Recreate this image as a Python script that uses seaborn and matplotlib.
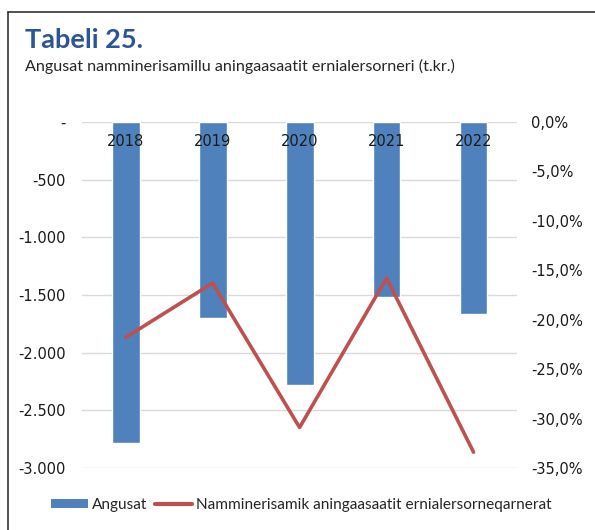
import matplotlib.pyplot as plt
import seaborn as sns
from matplotlib.lines import Line2D
from matplotlib.patches import Patch
from matplotlib.ticker import FuncFormatter, MultipleLocator

years = ["2018", "2019", "2020", "2021", "2022"]
angusat = [-2780, -1700, -2280, -1520, -1665]
ernialersorneq = [-21.8, -16.3, -30.9, -15.8, -33.4]

title = "Tabeli 25."
subtitle = "Angusat namminerisamillu aningaasaatit ernialersorneri (t.kr.)"
bar_label = "Angusat"
line_label = "Namminerisamik aningaasaatit ernialersorneqarnerat"

bar_color = "#4f81bd"
line_color = "#c0504d"

sns.set_theme(style="white")
plt.rcParams["font.family"] = ["DejaVu Sans"]

fig = plt.figure(figsize=(5.95, 5.30), dpi=100)
ax = fig.add_axes([0.138, 0.117, 0.731, 0.653])

sns.barplot(x=years, y=angusat, ax=ax, color=bar_color, width=0.32, saturation=1)
ax.set_ylim(-3000, 0)
ax.yaxis.set_major_locator(MultipleLocator(500))


def left_fmt(v, _):
    if abs(v) < 1e-9:
        return "-"
    return f"{v:,.0f}".replace(",", ".")


ax.yaxis.set_major_formatter(FuncFormatter(left_fmt))
ax.grid(axis="y", color="#d9d9d9", linewidth=1)
ax.set_axisbelow(True)
ax.tick_params(axis="x", length=0, labelbottom=False)
ax.tick_params(axis="y", length=0, pad=12, labelsize=10.5, colors="#1a1a1a")
ax.set_xlabel("")
ax.set_ylabel("")
for s in ax.spines.values():
    s.set_visible(False)

# category labels sit just under the zero line, on top of the bars
for i, yr in enumerate(years):
    ax.annotate(yr, (i, 0), xytext=(0, -14), textcoords="offset points",
                ha="center", va="center", fontsize=10.5, color="#1a1a1a", zorder=5)

ax2 = ax.twinx()
sns.pointplot(x=years, y=ernialersorneq, ax=ax2, color=line_color, markers="",
              linewidth=2.6)
ax2.set_ylim(-35, 0)
ax2.yaxis.set_major_locator(MultipleLocator(5))
ax2.yaxis.set_major_formatter(FuncFormatter(lambda v, _: f"{v:.1f}%".replace(".", ",")))
ax2.tick_params(axis="y", length=0, pad=10, labelsize=10.5, colors="#1a1a1a")
ax2.set_ylabel("")
for s in ax2.spines.values():
    s.set_visible(False)
ax2.grid(False)

fig.text(0.042, 0.925, title, fontsize=19.5, fontweight="bold", color="#2c5597",
         family=["Lato", "DejaVu Sans"], va="center")
fig.text(0.042, 0.874, subtitle, fontsize=11.6, color="#262626",
         family=["Lato", "DejaVu Sans"], va="center")

handles = [Patch(facecolor=bar_color, edgecolor="none"),
           Line2D([], [], color=line_color, linewidth=3)]
fig.legend(handles, [bar_label, line_label], loc="center left",
           bbox_to_anchor=(0.062, 0.047), ncol=2, frameon=False,
           prop={"family": ["Lato", "DejaVu Sans"], "size": 11.1},
           handlelength=2.4, handleheight=0.5, handletextpad=0.25, columnspacing=0.5)

fig.add_artist(Line2D([0.014, 0.014], [0, 0.977], color="#333333", linewidth=1.2,
                      transform=fig.transFigure))
fig.add_artist(Line2D([0.014, 1.0], [0.977, 0.977], color="#333333", linewidth=1.2,
                      transform=fig.transFigure))

fig.savefig("out.png", dpi=100)
